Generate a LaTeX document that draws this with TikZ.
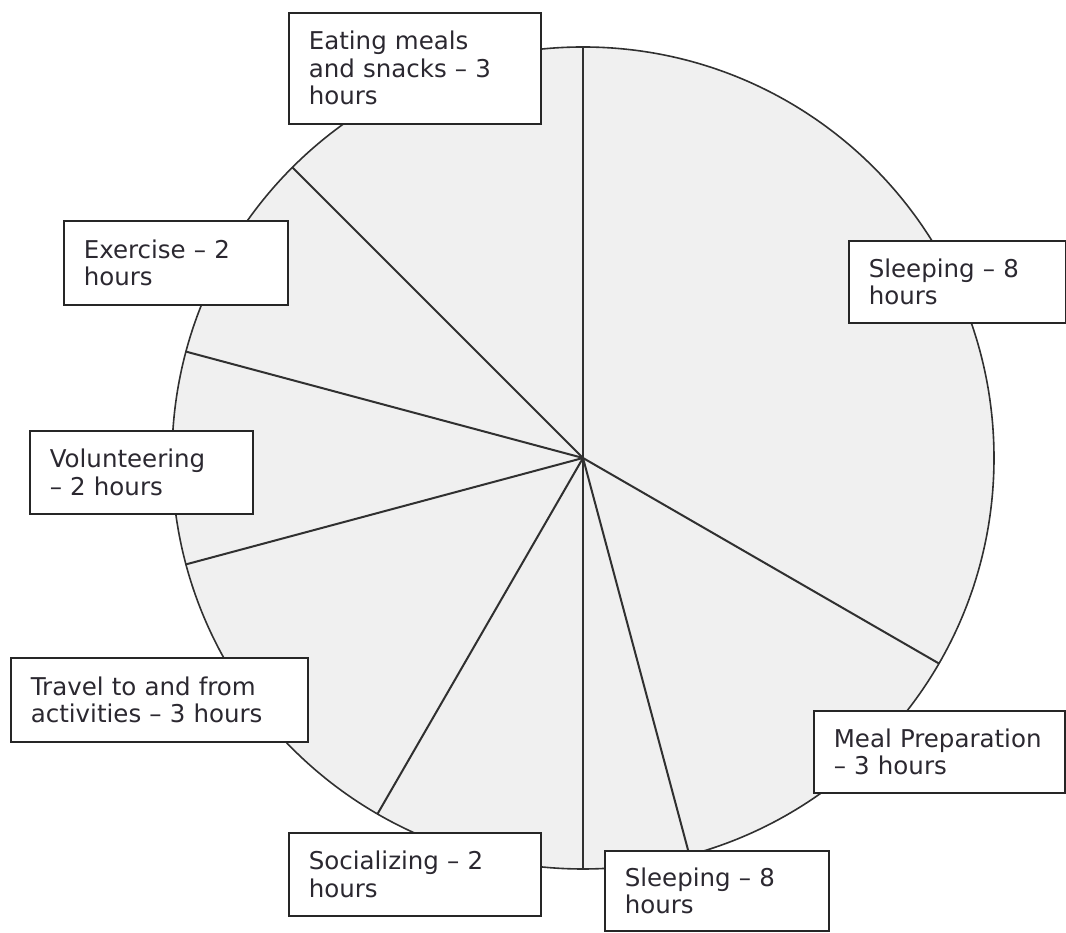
\documentclass[tikz,border=0pt]{standalone}
\usepackage{fontspec}
\setmainfont{DejaVu Sans}
\usepackage{tikz}

\definecolor{slice}{HTML}{F0F0F0}
\definecolor{rim}{HTML}{303030}
\definecolor{ink}{HTML}{2B2830}

\tikzset{
	lbl/.style={draw=black!85, fill=white, line width=1.6pt, anchor=north west, align=left,
		inner xsep=20pt, inner ysep=0pt, text=ink, font=\fontsize{24.5}{27.5}\selectfont},
	divider/.style={draw=rim, line width=2pt}
}

\begin{document}
\begin{tikzpicture}[x=1pt, y=1pt]
	\useasboundingbox (0,0) rectangle (1066,933);

	% the pie
	\coordinate (c) at (583,475);
	\fill[slice] (c) circle (411);

	\coordinate (r1) at ([shift={(583,475)}]90:411);
	\coordinate (r2) at ([shift={(583,475)}]-30:411);
	\coordinate (r3) at ([shift={(583,475)}]-75:411);
	\coordinate (r4) at ([shift={(583,475)}]-90:411);
	\coordinate (r5) at ([shift={(583,475)}]-120:411);
	\coordinate (r6) at ([shift={(583,475)}]195:411);
	\coordinate (r7) at ([shift={(583,475)}]165:411);
	\coordinate (r8) at ([shift={(583,475)}]135:411);

	\draw[divider] (c) -- (r1);
	\draw[divider] (c) -- (r2);
	\draw[divider] (c) -- (r3);
	\draw[divider] (c) -- (r4);
	\draw[divider] (c) -- (r5);
	\draw[divider] (c) -- (r6);
	\draw[divider] (c) -- (r7);
	\draw[divider] (c) -- (r8);
	\draw[rim, line width=1.6pt] (c) circle (411);

	% the labels
	\node[lbl, text width=212pt, minimum height=111pt] (eat)    at (288,921) {Eating meals\\and snacks -- 3\\hours};
	\node[lbl, text width=177pt, minimum height=82pt]  (sleepa) at (848,693) {Sleeping -- 8\\hours};
	\node[lbl, text width=211pt, minimum height=82pt]  (meal)   at (813,223) {Meal Preparation\\-- 3 hours};
	\node[lbl, text width=184pt, minimum height=80pt]  (sleepb) at (604,83)  {Sleeping -- 8\\hours};
	\node[lbl, text width=212pt, minimum height=83pt]  (social) at (288,101) {Socializing -- 2\\hours};
	\node[lbl, text width=257pt, minimum height=84pt]  (travel) at (10,276)  {Travel to and from\\activities -- 3 hours};
	\node[lbl, text width=183pt, minimum height=83pt]  (volun)  at (29,503)  {Volunteering\\-- 2 hours};
	\node[lbl, text width=184pt, minimum height=84pt]  (exer)   at (63,713)  {Exercise -- 2\\hours};

\end{tikzpicture}
\end{document}
